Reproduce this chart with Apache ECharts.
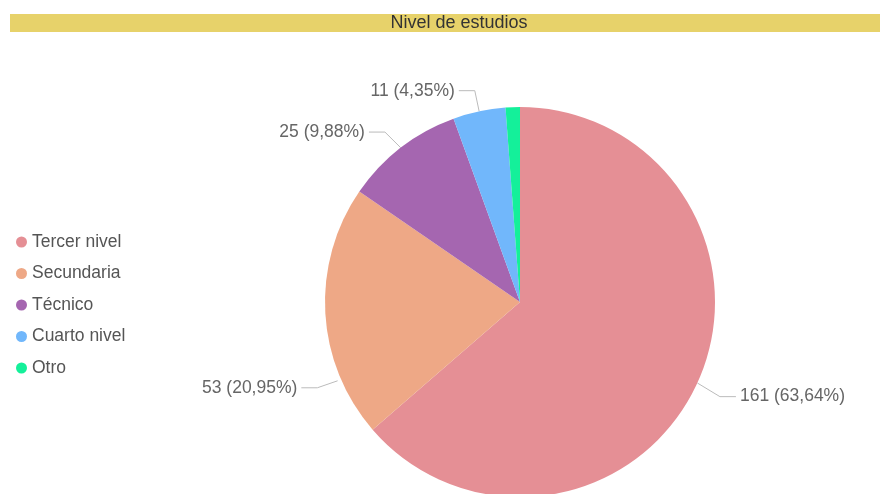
<!DOCTYPE html>
<html>
<head>
<meta charset="utf-8">
<script src="https://cdn.jsdelivr.net/npm/echarts@6/dist/echarts.min.js"></script>
<style>
  html, body { margin: 0; padding: 0; background: #fff; }
  #main { width: 880px; height: 494px; }
</style>
</head>
<body>
<div id="main"></div>
<script>
// datos del gráfico
var categories = ['Tercer nivel', 'Secundaria', 'Técnico', 'Cuarto nivel', 'Otro']
var values = [161, 53, 25, 11, 3]
var colors = ['#e58f95', '#eea886', '#a566b0', '#71b7fb', '#14f09a']
// desplazamiento de las etiquetas (como en el original)
var labelShiftX = [7, 9, -5, 0, 0]
var labelShiftY = [7, 74, -3, -5, 0]

var CX = 520, CY = 302, R = 195

var chart = echarts.init(document.getElementById('main'))

chart.setOption({
  animation: false,
  textStyle: { fontFamily: '"Liberation Sans", Arial, sans-serif' },
  color: colors,
  graphic: [{
    type: 'rect',
    shape: { x: 10, y: 14, width: 880, height: 18 },
    style: { fill: '#e7d26a' }
  }, {
    type: 'text',
    x: 459, y: 23,
    style: {
      text: 'Nivel de estudios',
      fill: '#333',
      font: '18px "Liberation Sans", Arial, sans-serif',
      align: 'center',
      verticalAlign: 'middle'
    }
  }],
  legend: {
    orient: 'vertical',
    left: 11,
    top: 228,
    icon: 'circle',
    itemWidth: 11,
    itemHeight: 11,
    itemGap: 13.5,
    textStyle: { fontSize: 17.5, color: '#555' },
    data: categories
  },
  series: [{
    type: 'pie',
    center: [CX, CY],
    radius: R,
    startAngle: 90,
    minShowLabelAngle: 5,
    data: categories.map(function (c, i) { return { name: c, value: values[i] } }),
    label: {
      color: '#666',
      fontSize: 17.5,
      formatter: function (p) {
        return p.value + ' (' + p.percent.toFixed(2).replace('.', ',') + '%)'
      }
    },
    labelLayout: function (p) {
      var r = p.labelRect
      var i = p.dataIndex
      var x = r.x + labelShiftX[i]
      var y = r.y + labelShiftY[i]
      var ly = y + r.height / 2
      var right = x > CX
      var ex = right ? x - 4 : x + r.width + 4
      var bx = right ? ex - 16 : ex + 16
      var start = p.labelLinePoints ? p.labelLinePoints[0] : [bx, ly]
      if (labelShiftY[i] > 30) {
        // la etiqueta se movió mucho: unir al borde del sector a su altura
        var sy = ly - 7
        var sx = CX - Math.sqrt(R * R - (sy - CY) * (sy - CY)) - 4
        start = [sx, sy]
      }
      return {
        x: x,
        y: y,
        align: 'left',
        verticalAlign: 'top',
        labelLinePoints: [start, [bx, ly], [ex, ly]]
      }
    },
    labelLine: {
      length: 16,
      length2: 16,
      lineStyle: { color: '#bbb', width: 1 }
    },
    itemStyle: { borderWidth: 0 }
  }]
})
</script>
</body>
</html>
